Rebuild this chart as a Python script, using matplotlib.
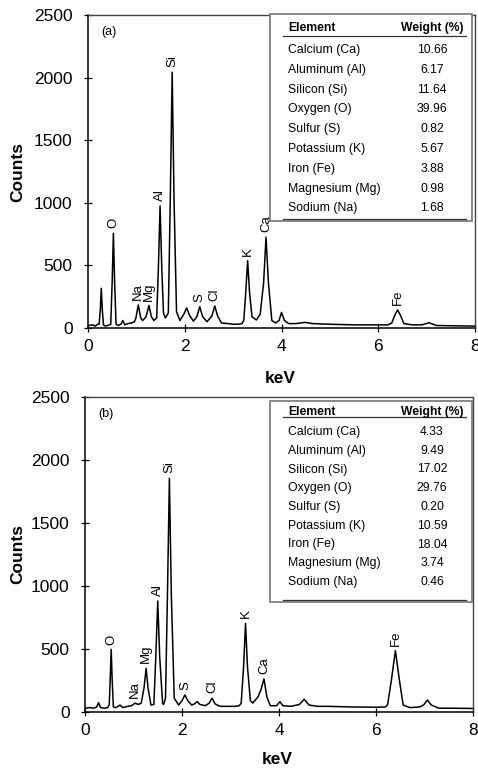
import matplotlib
matplotlib.use("Agg")
import matplotlib.pyplot as plt
from matplotlib.patches import Rectangle
from matplotlib.lines import Line2D

plt.rcParams['font.family'] = ['Liberation Sans', 'DejaVu Sans']

# ---------------- data ----------------
# Spectrum (a): energy (keV) and counts
kev_a = [0.00, 0.10, 0.15, 0.20, 0.23, 0.255, 0.275, 0.295, 0.32, 0.36, 0.40, 0.44,
         0.47, 0.50, 0.525, 0.55, 0.58, 0.62, 0.68, 0.72, 0.76, 0.82, 0.90, 0.96,
         0.99, 1.04, 1.09, 1.13, 1.20, 1.26, 1.31, 1.36,
         1.42, 1.455, 1.49, 1.525, 1.56, 1.60, 1.66, 1.70, 1.74, 1.78, 1.83, 1.90,
         1.98, 2.04, 2.10, 2.18, 2.25, 2.31, 2.37, 2.46, 2.56, 2.62, 2.68, 2.76,
         2.90, 3.00, 3.10, 3.18, 3.22, 3.26, 3.30, 3.34, 3.39, 3.48,
         3.56, 3.63, 3.68, 3.73, 3.80, 3.88, 3.95, 4.00, 4.06, 4.15, 4.30, 4.48,
         4.65, 5.00, 5.50, 6.00, 6.20, 6.28, 6.34, 6.40, 6.46, 6.53, 6.70, 6.90,
         7.05, 7.20, 7.50, 8.00]
cnt_a = [20, 25, 15, 30, 30, 150, 317, 150, 25, 15, 20, 25,
         30, 370, 757, 370, 30, 20, 30, 60, 25, 35, 40, 50,
         80, 184, 80, 60, 90, 180, 90, 60,
         80, 480, 975, 480, 120, 80, 120, 1000, 2043, 1000, 130, 60,
         110, 160, 100, 55, 90, 170, 90, 50, 95, 176, 95, 40,
         35, 30, 30, 35, 60, 280, 538, 280, 90, 64,
         110, 360, 725, 360, 60, 40, 60, 125, 60, 35, 35, 45,
         35, 30, 25, 25, 25, 40, 100, 144, 100, 35, 25, 25,
         42, 20, 18, 15]

# Spectrum (b)
kev_b = [0.00, 0.10, 0.18, 0.24, 0.28, 0.32, 0.40, 0.47,
         0.50, 0.52, 0.54, 0.56, 0.585, 0.64, 0.72, 0.78, 0.88, 0.96,
         1.03, 1.10, 1.16, 1.22, 1.26, 1.30, 1.36,
         1.42, 1.46, 1.50, 1.54, 1.60, 1.62, 1.66, 1.70, 1.74, 1.78, 1.84, 1.93,
         2.00, 2.06, 2.12, 2.20, 2.26, 2.31, 2.37, 2.48, 2.56, 2.62, 2.68, 2.78,
         2.95, 3.10, 3.18, 3.22, 3.27, 3.31, 3.35, 3.41, 3.46,
         3.57, 3.63, 3.69, 3.75, 3.82, 3.95, 4.02, 4.08, 4.25, 4.42, 4.52, 4.62,
         4.80, 5.00, 5.50, 6.00, 6.20, 6.24, 6.32, 6.40, 6.48, 6.56, 6.70, 6.90,
         6.98, 7.06, 7.14, 7.30, 7.60, 8.00]
cnt_b = [30, 35, 30, 40, 74, 35, 30, 35,
         60, 260, 497, 260, 40, 35, 55, 35, 45, 50,
         70, 60, 70, 200, 347, 190, 55,
         60, 440, 881, 440, 70, 60, 110, 930, 1855, 930, 110, 55,
         90, 135, 90, 55, 65, 82, 60, 50, 70, 109, 65, 45,
         45, 45, 50, 70, 360, 704, 360, 90, 71,
         122, 180, 262, 120, 50, 50, 82, 50, 45, 60, 101, 55,
         45, 45, 40, 38, 40, 60, 260, 487, 260, 55, 35, 40,
         55, 95, 55, 30, 30, 28]

# Peak labels
lab_a = ['O', 'Na', 'Mg', 'Al', 'Si', 'S', 'Cl', 'K', 'Ca', 'Fe']
lab_kev_a = [0.525, 1.04, 1.26, 1.49, 1.74, 2.31, 2.62, 3.30, 3.68, 6.40]
lab_cnt_a = [757, 184, 180, 975, 2043, 170, 176, 538, 725, 144]

lab_b = ['O', 'Na', 'Mg', 'Al', 'Si', 'S', 'Cl', 'K', 'Ca', 'Fe']
lab_kev_b = [0.54, 1.03, 1.26, 1.50, 1.74, 2.08, 2.62, 3.31, 3.69, 6.40]
lab_cnt_b = [497, 69, 347, 881, 1855, 135, 109, 704, 262, 487]

# Tables
elements = ['Calcium (Ca)', 'Aluminum (Al)', 'Silicon (Si)', 'Oxygen (O)', 'Sulfur (S)',
            'Potassium (K)', 'Iron (Fe)', 'Magnesium (Mg)', 'Sodium (Na)']
weight_a = ['10.66', '6.17', '11.64', '39.96', '0.82', '5.67', '3.88', '0.98', '1.68']
weight_b = ['4.33', '9.49', '17.02', '29.76', '0.20', '10.59', '18.04', '3.74', '0.46']

x_ticks = [0, 2, 4, 6, 8]
y_ticks = [0, 500, 1000, 1500, 2000, 2500]

# ---------------- layout ----------------
W, H = 478, 769
fig = plt.figure(figsize=(W / 100, H / 100), dpi=100)


def fx(px):
    return px / W


def fy(py):
    return 1 - py / H


def make_axes(left, right, top, bottom):
    return fig.add_axes([fx(left), fy(bottom), fx(right) - fx(left), fy(top) - fy(bottom)])


ax_a = make_axes(88, 475, 15, 328)
ax_b = make_axes(85, 473, 397, 712)


def style(ax, kev, cnt, labs, lkev, lcnt, tag, keV_y, counts_x):
    ax.plot(kev, cnt, color='black', lw=1.1, solid_joinstyle='round')
    ax.set_xlim(0, 8)
    ax.set_ylim(0, 2500)
    ax.set_xticks(x_ticks)
    ax.set_yticks(y_ticks)
    ax.tick_params(direction='inout', length=6, width=0.9, labelsize=12.5, colors='black')
    ax.tick_params(axis='x', pad=5)
    ax.tick_params(axis='y', pad=8)
    for s in ['left', 'bottom']:
        ax.spines[s].set_linewidth(1.1)
    for s in ['top', 'right']:
        ax.spines[s].set_linewidth(1.0)
        ax.spines[s].set_color('#444444')
    ax.set_xlabel('keV', fontsize=12.5, fontweight='bold')
    ax.set_ylabel('Counts', fontsize=12.5, fontweight='bold')
    ax.xaxis.set_label_coords(0.496, keV_y)
    ax.yaxis.set_label_coords(counts_x, 0.5)
    for t, xk, yc in zip(labs, lkev, lcnt):
        ax.annotate(t, (xk, yc), xytext=(0, 3.5), textcoords='offset points',
                    rotation=90, ha='center', va='bottom', fontsize=9.5)
    ax.text(0.035, 0.945, tag, transform=ax.transAxes, fontsize=9, ha='left', va='center')


style(ax_a, kev_a, cnt_a, lab_a, lab_kev_a, lab_cnt_a, '(a)', -0.137, -0.163)
style(ax_b, kev_b, cnt_b, lab_b, lab_kev_b, lab_cnt_b, '(b)', -0.127, -0.155)


def table(top, bottom, header_y, rule_y, row0, step, weights):
    box = Rectangle((fx(270), fy(bottom)), fx(472) - fx(270), fy(top) - fy(bottom),
                    transform=fig.transFigure, fill=True, facecolor='white',
                    edgecolor='#7f7f7f', lw=1.3, zorder=5)
    fig.add_artist(box)
    fig.add_artist(Line2D([fx(283), fx(466)], [fy(rule_y), fy(rule_y)],
                          transform=fig.transFigure, color='#333333', lw=0.9, zorder=6))
    fig.add_artist(Line2D([fx(283), fx(466)], [fy(bottom - 2), fy(bottom - 2)],
                          transform=fig.transFigure, color='#333333', lw=0.9, zorder=6))
    fig.text(fx(288), fy(header_y), 'Element', fontsize=8.7, fontweight='bold',
             ha='left', va='center', zorder=7)
    fig.text(fx(432), fy(header_y), 'Weight (%)', fontsize=8.7, fontweight='bold',
             ha='center', va='center', zorder=7)
    for i, (e, w) in enumerate(zip(elements, weights)):
        y = row0 + i * step
        fig.text(fx(288), fy(y), e, fontsize=8.8, ha='left', va='center', zorder=7)
        fig.text(fx(432), fy(y), w, fontsize=8.8, ha='center', va='center', zorder=7)


table(14, 221, 28, 36, 50, 19.8, weight_a)
table(401, 602, 412, 417, 432, 18.75, weight_b)

fig.savefig('out.png', dpi=100)
